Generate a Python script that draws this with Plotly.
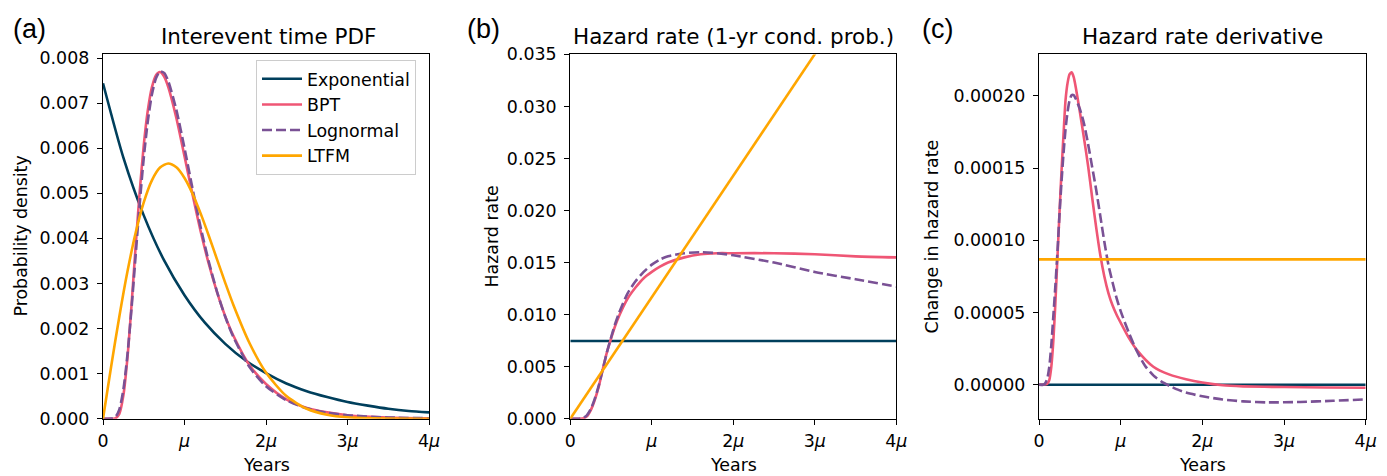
import plotly.graph_objects as go

# ---------------- data (x in units of mean recurrence mu) ----------------
# Panel (a): interevent time PDF
x_exp = [0, 0.25, 0.5, 0.75, 1.0, 1.25, 1.5, 1.75, 2.0, 2.25, 2.5, 2.75, 3.0, 3.25, 3.5, 3.75, 4.0]
pdf_exp = [0.00744, 0.00579, 0.00451, 0.00351, 0.00274, 0.00213, 0.00166, 0.00129, 0.00101,
           0.00078, 0.00061, 0.00048, 0.00037, 0.00029, 0.00022, 0.00017, 0.00014]

x_pdf = [0, 0.1, 0.15, 0.2, 0.25, 0.3, 0.35, 0.4, 0.45, 0.5, 0.55, 0.6, 0.65, 0.7, 0.75, 0.8,
         0.9, 1.0, 1.1, 1.2, 1.3, 1.4, 1.5, 1.6, 1.8, 2.0, 2.25, 2.5, 2.75, 3.0, 3.5, 4.0]
pdf_bpt = [0, 0.0, 0.0000066, 0.000108, 0.000517, 0.00135, 0.00252, 0.00381, 0.00503, 0.00606,
           0.00684, 0.00735, 0.00762, 0.00769, 0.00759, 0.00736, 0.00667, 0.00582, 0.00496,
           0.00414, 0.00342, 0.00280, 0.00227, 0.00184, 0.00118, 0.00077, 0.00043, 0.00024,
           0.00014, 0.000078, 0.000025, 0.000008]
pdf_logn = [0, 0.0000013, 0.0000325, 0.000202, 0.000647, 0.00142, 0.00245, 0.00361, 0.00476,
            0.00578, 0.00660, 0.00719, 0.00755, 0.00770, 0.00767, 0.00749, 0.00685, 0.00600,
            0.00509, 0.00423, 0.00347, 0.00281, 0.00226, 0.00181, 0.00114, 0.00072, 0.00041,
            0.00023, 0.00013, 0.000077, 0.000027, 0.0000101]

x_ltfm = [0, 0.1, 0.2, 0.3, 0.4, 0.5, 0.6, 0.7, 0.8, 0.9, 1.0, 1.1, 1.2, 1.3, 1.4, 1.5, 1.6,
          1.8, 2.0, 2.25, 2.5, 2.75, 3.0, 3.5, 4.0]
pdf_ltfm = [0, 0.001158, 0.002262, 0.003263, 0.004119, 0.004799, 0.005287, 0.005570, 0.005661,
            0.005576, 0.005339, 0.004985, 0.004543, 0.004048, 0.003529, 0.003014, 0.002523,
            0.001668, 0.001022, 0.000501, 0.000220, 0.0000867, 0.0000307, 0.0000028, 0.0]

# Panel (b): hazard rate (1-yr conditional probability)
x_haz = [0, 0.1, 0.15, 0.2, 0.25, 0.3, 0.35, 0.4, 0.45, 0.5, 0.55, 0.6, 0.7, 0.8, 0.9, 1.0,
         1.1, 1.2, 1.4, 1.6, 1.8, 2.0, 2.5, 3.0, 3.5, 4.0]
haz_bpt = [0, 0, 0.00002, 0.0002, 0.0008, 0.0018, 0.0031, 0.0048, 0.0064, 0.0077, 0.0089,
           0.0099, 0.0115, 0.0126, 0.0135, 0.0141, 0.0146, 0.0150, 0.0155, 0.0158, 0.0159,
           0.0159, 0.0159, 0.0158, 0.0156, 0.0155]
haz_logn = [0, 0, 0.00005, 0.0003, 0.0009, 0.0019, 0.0032, 0.0048, 0.0064, 0.0078, 0.0091,
            0.0102, 0.0120, 0.0132, 0.0141, 0.0148, 0.0153, 0.0156, 0.0159, 0.0160, 0.0159,
            0.0157, 0.0150, 0.0141, 0.0134, 0.0127]
x_line = [0, 4]
haz_exp = [0.00746, 0.00746]
haz_ltfm = [0.0, 0.0467]

# Panel (c): hazard rate derivative
x_dbpt = [0, 0.05, 0.1, 0.125, 0.15, 0.175, 0.2, 0.225, 0.25, 0.275, 0.3, 0.325, 0.35, 0.375,
          0.4, 0.425, 0.45, 0.5, 0.55, 0.6, 0.65, 0.7, 0.75, 0.8, 0.85, 0.9, 0.95, 1.0, 1.1,
          1.2, 1.4, 1.6, 1.8, 2.0, 2.25, 2.5, 3.0, 3.5, 4.0]
d_bpt = [0, 0, 0.0000005, 0.000003, 0.000012, 0.000030, 0.000056, 0.000087, 0.000118,
         0.000147, 0.000173, 0.000197, 0.000209, 0.000215, 0.0002163, 0.000213, 0.000206,
         0.000189, 0.000171, 0.000152, 0.000130, 0.000109, 0.000090, 0.000075, 0.0000635,
         0.000055, 0.0000485, 0.000043, 0.0000325, 0.000024, 0.0000125, 0.000007, 0.0000038,
         0.0000015, -0.0000004, -0.0000011, -0.0000016, -0.0000019, -0.0000021]
x_dlogn = [0, 0.05, 0.075, 0.1, 0.125, 0.15, 0.175, 0.2, 0.225, 0.25, 0.275, 0.3, 0.325, 0.35,
           0.375, 0.4, 0.425, 0.45, 0.5, 0.55, 0.6, 0.65, 0.7, 0.75, 0.8, 0.85, 0.9, 0.95, 1.0,
           1.1, 1.2, 1.3, 1.4, 1.5, 1.6, 1.7, 1.8, 2.0, 2.25, 2.5, 2.8, 3.2, 3.6, 4.0]
d_logn = [0, 0, 0.000001, 0.000004, 0.000012, 0.000027, 0.000047, 0.000068, 0.000091,
          0.000117, 0.000140, 0.000160, 0.000177, 0.000189, 0.000197, 0.0002005, 0.0002005,
          0.000198, 0.000191, 0.000181, 0.000167, 0.000151, 0.000135, 0.000117, 0.000099,
          0.000083, 0.000071, 0.000060, 0.000051, 0.000036, 0.000023, 0.000013, 0.0000065,
          0.0000022, -0.0000008, -0.0000034, -0.0000054, -0.000008, -0.0000102, -0.0000115,
          -0.0000122, -0.0000119, -0.0000111, -0.0000101]
d_exp = [0.0, 0.0]
d_ltfm = [0.0000868, 0.0000868]

names = ["Exponential", "BPT", "Lognormal", "LTFM"]
colors = ["#003f5c", "#ef5675", "#7a5195", "#ffa600"]
x_ticks = [0, 1, 2, 3, 4]
x_ticktext = ["0", "<i>μ</i>", "2<i>μ</i>", "3<i>μ</i>", "4<i>μ</i>"]

# ---------------- figure ----------------
W, H = 1387, 476
FONT = "DejaVu Sans"
LW = 2.6
DASH = "10px,4px"

fig = go.Figure()

def add(x, y, k, xa, ya, show):
    fig.add_trace(go.Scatter(
        x=x, y=y, mode="lines", name=names[k],
        line=dict(color=colors[k], width=LW, shape="spline", smoothing=0.7,
                  dash=DASH if k == 2 else "solid"),
        xaxis=xa, yaxis=ya, showlegend=show, hoverinfo="skip"))

add(x_exp, pdf_exp, 0, "x", "y", True)
add(x_pdf, pdf_bpt, 1, "x", "y", True)
add(x_pdf, pdf_logn, 2, "x", "y", True)
add(x_ltfm, pdf_ltfm, 3, "x", "y", True)

add(x_line, haz_exp, 0, "x2", "y2", False)
add(x_haz, haz_bpt, 1, "x2", "y2", False)
add(x_haz, haz_logn, 2, "x2", "y2", False)
add(x_line, haz_ltfm, 3, "x2", "y2", False)

add(x_line, d_exp, 0, "x3", "y3", False)
add(x_dbpt, d_bpt, 1, "x3", "y3", False)
add(x_dlogn, d_logn, 2, "x3", "y3", False)
add(x_line, d_ltfm, 3, "x3", "y3", False)

px = lambda v: v / W
py = lambda v: 1 - v / H

ydom = [py(418.7), py(54.4)]
xdoms = [[px(103), px(429)], [px(570.3), px(896.3)], [px(1039), px(1365.7)]]

tickfont = dict(family=FONT, size=17.4, color="black")
axcommon = dict(showline=True, linecolor="black", linewidth=1.4, mirror=True,
                ticks="outside", ticklen=5, tickwidth=1.4, tickcolor="black",
                showgrid=False, zeroline=False, tickfont=tickfont, automargin=False)

yranges = [[0, 0.00808], [0, 0.035], [-0.0000235, 0.0002287]]
yfmt = [dict(tickvals=[0, 0.001, 0.002, 0.003, 0.004, 0.005, 0.006, 0.007, 0.008], tickformat=".3f"),
        dict(tickvals=[0, 0.005, 0.01, 0.015, 0.02, 0.025, 0.03, 0.035], tickformat=".3f"),
        dict(tickvals=[0, 0.00005, 0.0001, 0.00015, 0.0002], tickformat=".5f")]

lay = dict(width=W, height=H, autosize=False, margin=dict(l=0, r=0, t=0, b=0, autoexpand=False),
           paper_bgcolor="white", plot_bgcolor="white", hovermode=False,
           font=dict(family=FONT, color="black"))
for i in range(3):
    s = "" if i == 0 else str(i + 1)
    lay["xaxis" + s] = dict(domain=xdoms[i], range=[0, 4], tickvals=x_ticks,
                            ticktext=x_ticktext, anchor="y" + s, ticklabelstandoff=1,
                            **axcommon)
    lay["yaxis" + s] = dict(domain=ydom, range=yranges[i], anchor="x" + s,
                            ticklabelstandoff=4, **yfmt[i], **axcommon)
fig.update_layout(**lay)

fig.update_layout(legend=dict(
    x=px(256), y=py(60), xanchor="left", yanchor="top",
    bgcolor="rgba(255,255,255,0.85)", bordercolor="#cccccc", borderwidth=1,
    font=dict(family=FONT, size=17.4, color="black"), tracegroupgap=0,
    itemwidth=40))

ann = []
titles = ["Interevent time PDF", "Hazard rate (1-yr cond. prob.)", "Hazard rate derivative"]
tcx = [268, 733.3, 1202.3]
for i in range(3):
    ann.append(dict(text=titles[i], x=px(tcx[i]), y=py(37), xref="paper", yref="paper",
                    xanchor="center", yanchor="middle", showarrow=False,
                    font=dict(family=FONT, size=21.5, color="black")))
    ann.append(dict(text="Years", x=px(sum(xdoms[i]) / 2 * W), y=py(465), xref="paper",
                    yref="paper", xanchor="center", yanchor="middle", showarrow=False,
                    font=dict(family=FONT, size=17.4, color="black")))
ylabels = ["Probability density", "Hazard rate", "Change in hazard rate"]
ylx = [20, 491, 931]
for i in range(3):
    ann.append(dict(text=ylabels[i], x=px(ylx[i]), y=py(236.5), xref="paper", yref="paper",
                    xanchor="center", yanchor="middle", showarrow=False, textangle=-90,
                    font=dict(family=FONT, size=17.4, color="black")))
plabels = ["(a)", "(b)", "(c)"]
plx = [29, 483, 937]
for i in range(3):
    ann.append(dict(text=plabels[i], x=px(plx[i]), y=py(28.5), xref="paper", yref="paper",
                    xanchor="center", yanchor="middle", showarrow=False,
                    font=dict(family="Liberation Sans", size=27, color="black")))
fig.update_layout(annotations=ann)

post = ("document.body.style.margin='0px';"
        "document.body.style.overflow='hidden';")

fig.write_html("out.html", config={"displayModeBar": False}, post_script=post)
